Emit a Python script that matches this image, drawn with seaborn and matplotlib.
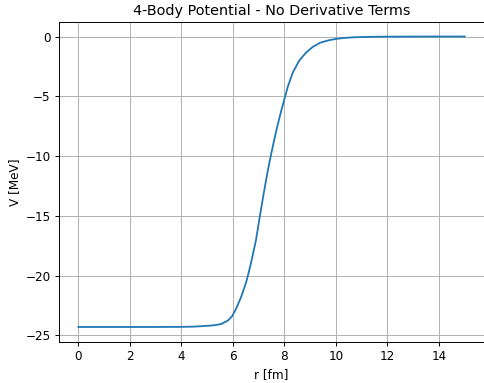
import matplotlib
matplotlib.use("Agg")
import matplotlib.pyplot as plt
import seaborn as sns
import pandas as pd

r_fm = [0.0, 1.0, 2.0, 3.0, 4.0, 4.5, 5.04, 5.3, 5.55, 5.81, 5.97, 6.13, 6.32,
        6.51, 6.62, 6.73, 6.9, 7.05, 7.2, 7.35, 7.47, 7.6, 7.75, 7.88, 8.0,
        8.14, 8.33, 8.58, 8.84, 9.1, 9.41, 9.73, 10.0, 10.3, 10.65, 11.0,
        11.5, 12.0, 13.0, 14.0, 15.0]
v_mev = [-24.3, -24.3, -24.3, -24.3, -24.29, -24.27, -24.2, -24.15, -24.05,
         -23.76, -23.4, -22.75, -21.8, -20.6, -19.7, -18.7, -17.0, -15.0,
         -13.1, -11.3, -10.0, -8.7, -7.3, -6.2, -5.25, -4.15, -3.0, -2.0,
         -1.35, -0.87, -0.5, -0.31, -0.2, -0.12, -0.07, -0.04, -0.02, -0.01,
         -0.003, 0.0, 0.0]

title = "4-Body Potential - No Derivative Terms"
xlabel = "r [fm]"
ylabel = "V [MeV]"

df = pd.DataFrame({"r": r_fm, "V": v_mev})

plt.rcdefaults()
dpi = 86.6
fig, ax = plt.subplots(figsize=(485 / dpi, 383 / dpi), dpi=dpi)
fig.subplots_adjust(left=59/485, right=484/485, top=1-22/383, bottom=1-341.5/383)

sns.lineplot(data=df, x="r", y="V", ax=ax, color="#1f77b4", linewidth=1.5)
ax.grid(True)
ax.set_title(title)
ax.set_xlabel(xlabel)
ax.set_ylabel(ylabel)
ax.set_xticks([0, 2, 4, 6, 8, 10, 12, 14])
ax.set_yticks([0, -5, -10, -15, -20, -25])

fig.savefig("out.png", dpi=dpi)
